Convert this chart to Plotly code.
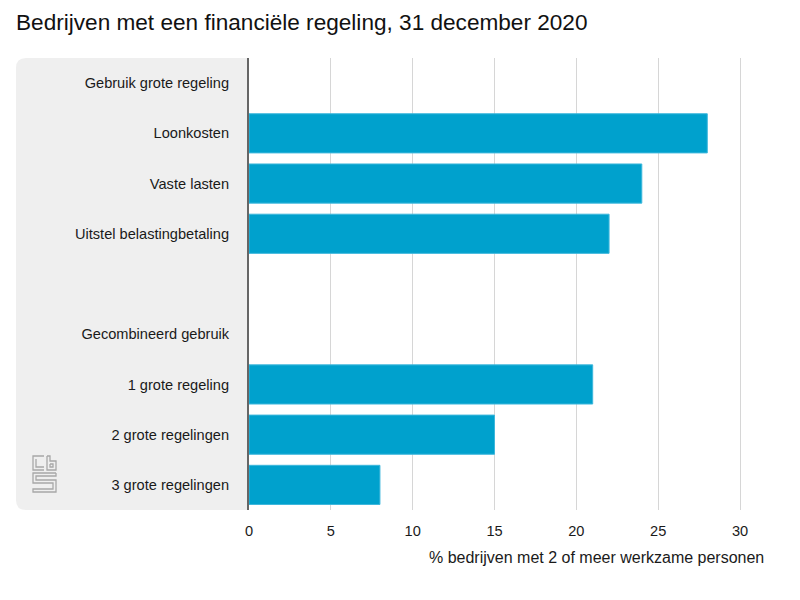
import plotly.graph_objects as go

# data
categories = [
    "Gebruik grote regeling",
    "Loonkosten",
    "Vaste lasten",
    "Uitstel belastingbetaling",
    " ",
    "Gecombineerd gebruik",
    "1 grote regeling",
    "2 grote regelingen",
    "3 grote regelingen",
]
values = [None, 28, 24, 22, None, None, 21, 15, 8]
x_ticks = [0, 5, 10, 15, 20, 25, 30]

# page body has an 8px margin, so work in page pixels and shift
OFF = 8
W, H = 800 - OFF, 600 - OFF
L, R, T, B = 249 - OFF, 760 - OFF, 58 - OFF, 510 - OFF


def px(x):
    return (x - OFF - L) / (R - L)


def py(y):
    return (B - (y - OFF)) / (B - T)


fig = go.Figure()
fig.add_trace(go.Bar(
    y=categories,
    x=values,
    orientation="h",
    marker=dict(color="#00a1cd", line=dict(color="#3db7dc", width=1)),
    hoverinfo="x+y",
))

# grey rounded panel behind the labels
r = 10
x0, x1, y0, y1 = px(16), px(249), py(58), py(510)
rx, ry = r / (R - L), r / (B - T)
panel = (f"M {x1},{y0} L {x0 + rx},{y0} Q {x0},{y0} {x0},{y0 - ry} "
         f"L {x0},{y1 + ry} Q {x0},{y1} {x0 + rx},{y1} L {x1},{y1} Z")
shapes = [dict(type="path", xref="paper", yref="paper", path=panel,
               fillcolor="#efefef", line=dict(width=0), layer="below")]

# cbs logo, rough outline
logo_paths = [
    [(44, 456), (33, 456), (33, 470), (44, 470)],
    [(36, 459), (36, 467), (44, 467)],
    [(47, 456), (47, 470), (56, 470), (56, 461), (50, 461), (50, 456), (47, 456)],
    [(50, 464), (53, 464), (53, 467), (50, 467), (50, 464)],
    [(56, 473), (33, 473), (33, 483), (53, 483), (53, 489), (33, 489), (33, 492),
     (56, 492), (56, 480), (36, 480), (36, 476), (56, 476), (56, 473)],
]
for pts in logo_paths:
    d = "M " + " L ".join(f"{px(a)},{py(b)}" for a, b in pts)
    shapes.append(dict(type="path", xref="paper", yref="paper", path=d,
                       line=dict(color="#a8a8a8", width=1.3)))

fig.update_layout(
    width=W,
    height=H,
    margin=dict(l=L, r=W - R, t=T, b=H - B, pad=0),
    paper_bgcolor="white",
    plot_bgcolor="white",
    font=dict(family="Liberation Sans, Arial, sans-serif", size=14.6, color="#1a1a1a"),
    showlegend=False,
    bargap=0.22,
    title=dict(
        text="Bedrijven met een financiële regeling, 31 december 2020",
        x=(16 - OFF) / W, xanchor="left", xref="container",
        y=1 - (22 - OFF) / H, yanchor="middle", yref="container",
        font=dict(size=22.6, color="#111"),
    ),
    xaxis=dict(
        range=[0, (R - L) / ((740 - 249) / 30)],
        tickvals=x_ticks,
        showgrid=True,
        gridcolor="#d6d6d6",
        gridwidth=1,
        zeroline=False,
        showline=False,
        ticks="",
        ticklabelstandoff=10,
        tickfont=dict(size=14.6),
        fixedrange=True,
    ),
    yaxis=dict(
        autorange="reversed",
        showgrid=False,
        showline=True,
        linecolor="#666666",
        linewidth=2,
        ticks="",
        ticklabelstandoff=15,
        tickfont=dict(size=14.6),
        fixedrange=True,
    ),
    shapes=shapes,
    annotations=[dict(
        text="% bedrijven met 2 of meer werkzame personen",
        xref="paper", yref="paper",
        x=px(766), y=py(557), xanchor="right", yanchor="middle",
        showarrow=False, font=dict(size=16, color="#1a1a1a"),
    )],
)

fig.write_html("out.html")
